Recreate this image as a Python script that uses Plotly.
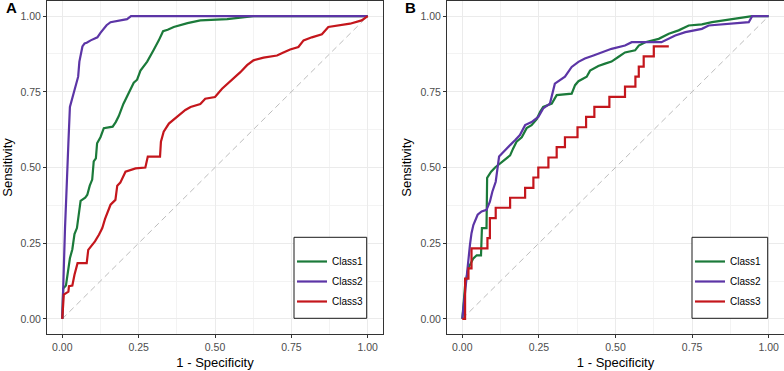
import plotly.graph_objects as go

# ---------------- data ----------------
classes = ["Class1", "Class2", "Class3"]
colors = ["#1B7A3A", "#5C35A6", "#C4161C"]
tick_vals = [0, 0.25, 0.5, 0.75, 1.0]
diag = [0, 1]

# Panel A
fpr_a1 = [0, 0.003, 0.012, 0.018, 0.025, 0.033, 0.04, 0.048, 0.055, 0.06, 0.075, 0.082, 0.09, 0.098,
          0.103, 0.11, 0.114, 0.125, 0.136, 0.165, 0.175, 0.185, 0.20, 0.218, 0.234, 0.245, 0.256,
          0.278, 0.29, 0.30, 0.316, 0.33, 0.345, 0.365, 0.41, 0.452, 0.54, 0.626, 1.0]
tpr_a1 = [0, 0.10, 0.11, 0.16, 0.20, 0.23, 0.28, 0.30, 0.36, 0.39, 0.40, 0.41, 0.44, 0.46,
          0.52, 0.53, 0.58, 0.60, 0.63, 0.635, 0.65, 0.67, 0.71, 0.745, 0.78, 0.79, 0.82,
          0.85, 0.87, 0.89, 0.92, 0.95, 0.955, 0.964, 0.977, 0.986, 0.99, 1.0, 1.0]

fpr_a2 = [0, 0.002, 0.005, 0.009, 0.013, 0.016, 0.02, 0.025, 0.03, 0.038, 0.045, 0.052, 0.056, 0.06,
          0.066, 0.073, 0.08, 0.093, 0.105, 0.115, 0.125, 0.136, 0.145, 0.158, 0.19, 0.212, 0.225, 1.0]
tpr_a2 = [0, 0.09, 0.20, 0.30, 0.40, 0.50, 0.58, 0.70, 0.72, 0.75, 0.78, 0.80, 0.85, 0.87,
          0.90, 0.91, 0.912, 0.92, 0.925, 0.93, 0.945, 0.96, 0.97, 0.98, 0.985, 0.99, 1.0, 1.0]

fpr_a3 = [0, 0.005, 0.02, 0.022, 0.033, 0.04, 0.05, 0.08, 0.085, 0.095, 0.107, 0.12, 0.131, 0.14,
          0.147, 0.158, 0.174, 0.18, 0.19, 0.207, 0.24, 0.272, 0.28, 0.32, 0.323, 0.332, 0.349,
          0.376, 0.403, 0.42, 0.452, 0.468, 0.50, 0.523, 0.561, 0.583, 0.605, 0.626, 0.659, 0.703,
          0.724, 0.746, 0.773, 0.79, 0.817, 0.85, 0.871, 0.942, 0.98, 0.997, 1.0]
tpr_a3 = [0, 0.08, 0.09, 0.108, 0.11, 0.146, 0.184, 0.184, 0.228, 0.24, 0.256, 0.278, 0.30, 0.33,
          0.35, 0.377, 0.393, 0.44, 0.45, 0.486, 0.497, 0.50, 0.536, 0.536, 0.585, 0.618, 0.645,
          0.667, 0.69, 0.70, 0.71, 0.727, 0.733, 0.76, 0.794, 0.815, 0.838, 0.854, 0.863, 0.87,
          0.88, 0.89, 0.898, 0.92, 0.93, 0.94, 0.964, 0.975, 0.986, 1.0, 1.0]

# Panel B
fpr_b1 = [0, 0.004, 0.009, 0.0196, 0.036, 0.047, 0.061, 0.064, 0.079, 0.081, 0.094, 0.107, 0.123,
          0.139, 0.156, 0.166, 0.177, 0.194, 0.21, 0.226, 0.243, 0.254, 0.264, 0.292, 0.308, 0.357,
          0.368, 0.379, 0.406, 0.417, 0.444, 0.466, 0.487, 0.509, 0.531, 0.564, 0.576, 0.597, 0.641,
          0.674, 0.706, 0.739, 0.782, 0.815, 0.859, 0.913, 0.946, 1.0]
tpr_b1 = [0, 0.064, 0.11, 0.168, 0.20, 0.21, 0.21, 0.30, 0.30, 0.466, 0.486, 0.50, 0.514,
          0.525, 0.54, 0.563, 0.585, 0.60, 0.63, 0.64, 0.66, 0.684, 0.70, 0.711, 0.739, 0.744,
          0.772, 0.785, 0.80, 0.82, 0.835, 0.843, 0.85, 0.865, 0.88, 0.887, 0.903, 0.914, 0.925,
          0.942, 0.953, 0.969, 0.973, 0.98, 0.986, 0.995, 1.0, 1.0]

fpr_b2 = [0, 0.0065, 0.012, 0.0196, 0.025, 0.030, 0.036, 0.05, 0.063, 0.079, 0.09, 0.098, 0.109,
          0.12, 0.134, 0.156, 0.172, 0.188, 0.205, 0.226, 0.248, 0.264, 0.286, 0.302, 0.335, 0.357,
          0.379, 0.40, 0.428, 0.455, 0.487, 0.531, 0.553, 0.65, 0.663, 0.695, 0.728, 0.782, 0.804,
          0.935, 0.946, 1.0]
tpr_b2 = [0, 0.07, 0.124, 0.20, 0.245, 0.283, 0.31, 0.344, 0.355, 0.36, 0.387, 0.42, 0.453,
          0.536, 0.552, 0.574, 0.59, 0.607, 0.64, 0.65, 0.667, 0.695, 0.711, 0.777, 0.80, 0.832,
          0.849, 0.86, 0.87, 0.88, 0.892, 0.903, 0.914, 0.914, 0.92, 0.936, 0.947, 0.958, 0.969,
          0.98, 1.0, 1.0]

fpr_b3 = [0, 0.009, 0.020, 0.030, 0.082, 0.090, 0.109, 0.156, 0.205, 0.232, 0.248, 0.281, 0.308,
          0.335, 0.376, 0.404, 0.431, 0.48, 0.531, 0.565, 0.576, 0.592, 0.625, 0.674]
tpr_b3 = [0, 0.133, 0.167, 0.233, 0.267, 0.333, 0.367, 0.40, 0.433, 0.467, 0.50, 0.533, 0.567,
          0.60, 0.633, 0.667, 0.70, 0.733, 0.767, 0.80, 0.833, 0.867, 0.90, 0.90]

panel_a = [(fpr_a1, tpr_a1, "linear"), (fpr_a2, tpr_a2, "linear"), (fpr_a3, tpr_a3, "linear")]
panel_b = [(fpr_b1, tpr_b1, "linear"), (fpr_b2, tpr_b2, "linear"), (fpr_b3, tpr_b3, "hv")]

FONT = "Liberation Sans, Arial, Helvetica, sans-serif"

fig = go.Figure()

for xa, ya, leg, panel in [("x", "y", "legend", panel_a), ("x2", "y2", "legend2", panel_b)]:
    fig.add_trace(go.Scatter(x=diag, y=diag, mode="lines", xaxis=xa, yaxis=ya,
                             line=dict(color="#BDBDBD", width=1, dash="6px,4px"),
                             showlegend=False, hoverinfo="skip"))
    for i, (fx, ty, shape) in enumerate(panel):
        fig.add_trace(go.Scatter(x=fx, y=ty, mode="lines", name=classes[i], xaxis=xa, yaxis=ya,
                                 line=dict(color=colors[i], width=2.2, shape=shape),
                                 legend=leg, legendgroup=leg + classes[i]))

axis_common = dict(
    range=[-0.05, 1.05], tickvals=tick_vals, tickformat=".2f",
    showline=True, mirror=True, linecolor="#333333", linewidth=1,
    ticks="outside", ticklen=3, tickcolor="#333333", tickwidth=1,
    showgrid=True, gridcolor="#EBEBEB", gridwidth=1, zeroline=False,
    minor=dict(tickvals=[0.125, 0.375, 0.625, 0.875], showgrid=True, gridcolor="#F3F3F3", gridwidth=0.6),
    tickfont=dict(family=FONT, size=10.5, color="#4D4D4D"),
    fixedrange=True, automargin=False,
)

xtitle = dict(text="1 - Specificity", font=dict(family=FONT, size=13, color="#000000"), standoff=6)
ytitle = dict(text="Sensitivity", font=dict(family=FONT, size=13, color="#000000"), standoff=5)

W, H = 784, 371
ML, MR, MT, MB = 47, 0, 1, 37
pw = W - ML - MR
ph = H - MT - MB


def px_x(p):
    return (p - ML) / pw


def px_y(p):
    return (H - MB - p) / ph


fig.update_layout(
    width=W, height=H,
    margin=dict(l=ML, r=MR, t=MT, b=MB, autoexpand=False),
    paper_bgcolor="white", plot_bgcolor="white",
    font=dict(family=FONT),
    xaxis=dict(domain=[0, px_x(383)], anchor="y", title=xtitle, **axis_common),
    yaxis=dict(domain=[0, 1], anchor="x", title=ytitle, **axis_common),
    xaxis2=dict(domain=[px_x(447), 1], anchor="y2", title=xtitle, **axis_common),
    yaxis2=dict(domain=[0, 1], anchor="x2", title=ytitle, **axis_common),
    legend=dict(x=px_x(292), y=px_y(247), xanchor="left", yanchor="top",
                bgcolor="rgba(0,0,0,0)", borderwidth=0, tracegroupgap=1,
                font=dict(family=FONT, size=10, color="#000000")),
    legend2=dict(x=px_x(690), y=px_y(247), xanchor="left", yanchor="top",
                 bgcolor="rgba(0,0,0,0)", borderwidth=0, tracegroupgap=1,
                 font=dict(family=FONT, size=10, color="#000000")),
    shapes=[
        dict(type="rect", xref="paper", yref="paper", layer="above",
             x0=px_x(294), x1=px_x(366.7), y0=px_y(318.3), y1=px_y(237.3),
             line=dict(color="#1A1A1A", width=1), fillcolor="white"),
        dict(type="rect", xref="paper", yref="paper", layer="above",
             x0=px_x(692), x1=px_x(767.7), y0=px_y(318.3), y1=px_y(237.3),
             line=dict(color="#1A1A1A", width=1), fillcolor="white"),
    ],
    annotations=[
        dict(text="<b>A</b>", xref="paper", yref="paper", x=px_x(11), y=px_y(8),
             xanchor="center", yanchor="middle",
             showarrow=False, font=dict(family=FONT, size=15, color="#000000")),
        dict(text="<b>B</b>", xref="paper", yref="paper", x=px_x(410), y=px_y(8),
             xanchor="center", yanchor="middle",
             showarrow=False, font=dict(family=FONT, size=15, color="#000000")),
    ],
    showlegend=True,
)

fig.write_html("out.html",
               config={"displayModeBar": False, "staticPlot": False},
               post_script="document.body.style.margin='0';document.body.style.padding='0';"
                           "document.documentElement.style.overflow='hidden';")
